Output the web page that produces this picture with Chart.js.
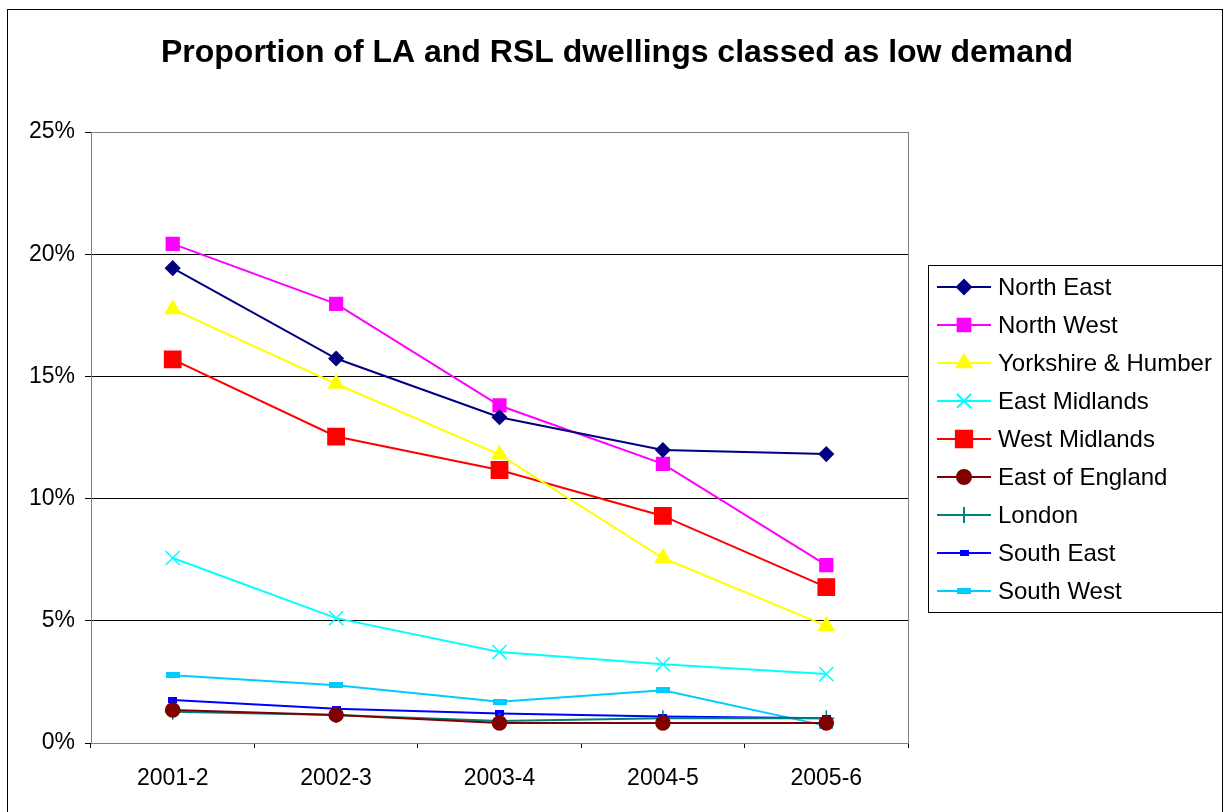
<!DOCTYPE html>
<html>
<head>
<meta charset="utf-8">
<script src="https://cdn.jsdelivr.net/npm/chart.js@4"></script>
<style>
  body { margin: 0; background: #fff; }
  #wrap { width: 1225px; height: 812px; }
</style>
</head>
<body>
<div id="wrap"><canvas id="chart" width="1225" height="812"></canvas></div>
<script>
const years = ['2001-2', '2002-3', '2003-4', '2004-5', '2005-6'];
const northEast = [19.43, 15.73, 13.33, 11.99, 11.82];
const northWest = [20.42, 17.97, 13.81, 11.42, 7.28];
const yorkshire = [17.75, 14.70, 11.80, 7.57, 4.79];
const eastMidlands = [7.57, 5.11, 3.72, 3.22, 2.82];
const westMidlands = [15.70, 12.54, 11.17, 9.29, 6.38];
const eastOfEngland = [1.35, 1.15, 0.82, 0.82, 0.82];
const london = [1.28, 1.15, 0.90, 1.01, 1.01];
const southEast = [1.76, 1.40, 1.21, 1.08, 1.01];
const southWest = [2.77, 2.36, 1.69, 2.16, 0.70];
const yTicks = [0, 5, 10, 15, 20, 25];

const FONT = '"Liberation Sans", Arial, sans-serif';

// small bar-shaped markers used by Excel for the last two series
function dashMarker(w, h, color) {
  const c = document.createElement('canvas');
  c.width = w;
  c.height = h;
  const g = c.getContext('2d');
  g.fillStyle = color;
  g.fillRect(0, 0, w, h);
  return c;
}

function series(label, data, color, style, radius) {
  return {
    label, data,
    borderColor: color,
    backgroundColor: color,
    borderWidth: 2,
    pointStyle: style,
    pointRadius: radius,
    pointHoverRadius: radius,
    pointBorderWidth: 1.5,
    pointBorderColor: color,
    pointBackgroundColor: color,
    tension: 0
  };
}

const datasets = [
  series('North East', northEast, '#000080', 'rectRot', 7),
  series('North West', northWest, '#FF00FF', 'rect', 9),
  series('Yorkshire & Humber', yorkshire, '#FFFF00', 'triangle', 8.5),
  series('East Midlands', eastMidlands, '#00FFFF', 'crossRot', 10),
  series('West Midlands', westMidlands, '#FF0000', 'rect', 11.5),
  series('East of England', eastOfEngland, '#800000', 'circle', 7),
  series('London', london, '#008080', 'cross', 8),
  series('South East', southEast, '#0000FF', dashMarker(9, 6, '#0000FF'), 5),
  series('South West', southWest, '#00CCFF', dashMarker(14, 6, '#00CCFF'), 5)
];

const frame = {
  id: 'frame',
  beforeDraw(chart) {
    const ctx = chart.ctx;
    ctx.save();
    ctx.fillStyle = '#fff';
    ctx.fillRect(0, 0, chart.width, chart.height);
    ctx.strokeStyle = '#000';
    ctx.lineWidth = 1;
    ctx.strokeRect(7.5, 9.5, 1215, 820);
    ctx.fillStyle = '#000';
    ctx.font = 'bold 32px ' + FONT;
    ctx.textAlign = 'center';
    ctx.textBaseline = 'middle';
    ctx.fillText('Proportion of LA and RSL dwellings classed as low demand', 617, 53);
    ctx.restore();
  },
  afterDraw(chart) {
    const ctx = chart.ctx;
    const a = chart.chartArea;
    ctx.save();
    ctx.strokeStyle = '#808080';
    ctx.lineWidth = 1;
    ctx.strokeRect(Math.round(a.left) + 0.5, Math.round(a.top) + 0.5, Math.round(a.right - a.left), Math.round(a.bottom - a.top));

    // legend box
    ctx.strokeStyle = '#000';
    ctx.strokeRect(928.5, 265.5, 294, 347);
    ctx.font = '24px ' + FONT;
    ctx.textBaseline = 'middle';
    ctx.textAlign = 'left';
    chart.data.datasets.forEach((ds, i) => {
      const y = 287 + i * 38;
      ctx.strokeStyle = ds.borderColor;
      ctx.lineWidth = 2;
      ctx.beginPath();
      ctx.moveTo(937, y);
      ctx.lineTo(991, y);
      ctx.stroke();
      ctx.fillStyle = ds.borderColor;
      Chart.helpers.drawPoint(ctx, {
        pointStyle: ds.pointStyle,
        radius: ds.pointRadius,
        borderWidth: ds.pointBorderWidth,
        rotation: 0
      }, 964, y);
      ctx.fillStyle = '#000';
      ctx.fillText(ds.label, 998, y + 1);
    });
    ctx.restore();
  }
};

new Chart(document.getElementById('chart'), {
  type: 'line',
  data: { labels: years, datasets },
  options: {
    responsive: false,
    animation: false,
    layout: { padding: { left: 8, right: 317, top: 132, bottom: 0 } },
    plugins: {
      legend: { display: false },
      title: { display: false },
      tooltip: { enabled: false }
    },
    scales: {
      x: {
        offset: true,
        grid: { offset: true, drawOnChartArea: false, drawTicks: true, tickLength: 5, color: '#000' },
        border: { color: '#808080' },
        ticks: { color: '#000', font: { size: 23, family: FONT }, padding: 17, maxRotation: 0 },
        afterFit(scale) { scale.height = 69; }
      },
      y: {
        min: 0,
        max: 25,
        afterBuildTicks(scale) { scale.ticks = yTicks.map(v => ({ value: v })); },
        grid: { color: '#000', tickLength: 6, drawTicks: true },
        border: { color: '#808080' },
        ticks: {
          color: '#000',
          font: { size: 23, family: FONT },
          padding: 10,
          callback: v => v + '%'
        },
        afterFit(scale) { scale.width = 83; }
      }
    }
  },
  plugins: [frame]
});
</script>
</body>
</html>
